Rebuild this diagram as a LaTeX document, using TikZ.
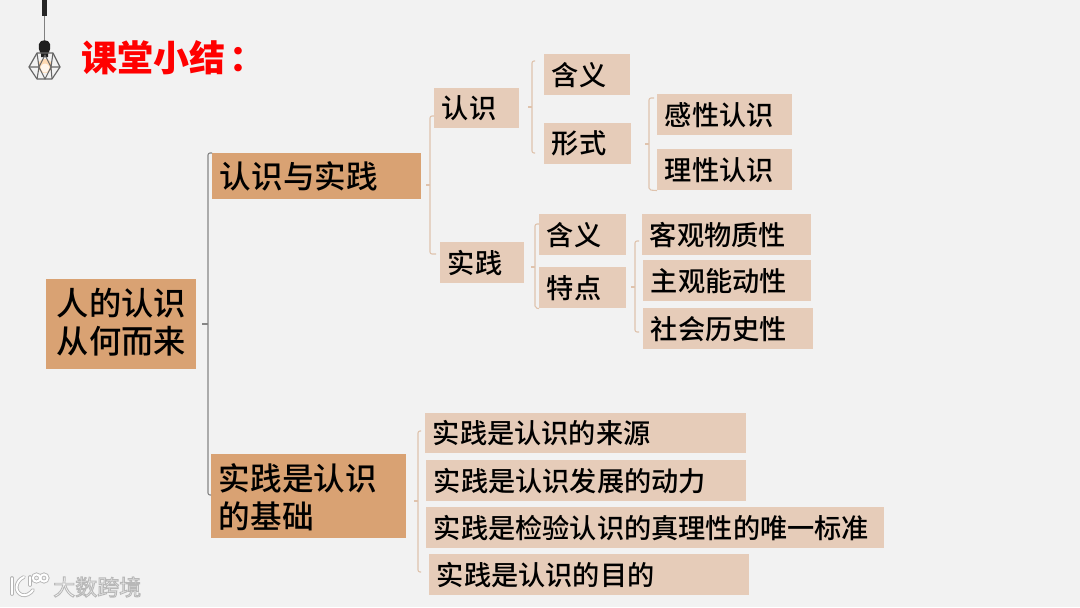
\documentclass[tikz,border=0pt]{standalone}
\usepackage{fontspec}
\setmainfont{Noto Sans CJK SC Medium}
\newfontfamily\cjkbold{Noto Sans CJK SC Black}
\newfontfamily\cjkwm{Noto Sans CJK SC}
\definecolor{pagebg}{HTML}{F2F2F2}
\definecolor{darkbox}{HTML}{D9A273}
\definecolor{lightbox}{HTML}{E6CCB9}
\definecolor{tanline}{HTML}{DFC3AD}
\definecolor{grayline}{HTML}{858585}
\definecolor{wmark}{HTML}{B4B4B4}
\tikzset{
  x=0.75pt,y=-0.75pt,
  basebox/.style={anchor=north west,inner ysep=0pt,inner xsep=5.7pt,align=left,text=black},
  darkitem/.style={basebox,fill=darkbox,font=\fontsize{23.7}{28.5}\selectfont},
  rootitem/.style={darkitem,align=center,font=\fontsize{24.2}{28.5}\selectfont},
  lightitem/.style={basebox,fill=lightbox,font=\fontsize{20.4}{24}\selectfont},
  tanbracket/.style={draw=tanline,line width=0.8pt,rounded corners=1.5pt},
  graybracket/.style={draw=grayline,line width=0.8pt,rounded corners=1.5pt},
  titletext/.style={anchor=west,inner sep=0pt,text=red,font=\cjkbold\fontsize{27}{30}\selectfont},
  wmtext/.style={anchor=west,inner sep=0pt,text=white,font=\cjkwm\fontsize{16.5}{18}\selectfont},
  wmunder/.style={draw=wmark,line width=2.8pt,line cap=round},
  wmover/.style={draw=white,line width=1.5pt,line cap=round},
}
% name, style, x1, y1, x2, y2, text
\newcommand{\itembox}[7]{%
  \pgfmathsetmacro{\itemw}{(#5-#3)*0.75-11.4}%
  \pgfmathsetmacro{\itemh}{(#6-#4)*0.75}%
  \node[#2,text width=\itemw pt,minimum height=\itemh pt] (#1) at (#3,#4) {#7};%
}
\newcommand{\logopath}[1]{%
  \draw[#1] (12,578) -- (12,594);
  \draw[#1] (24,577) .. controls (15,581) and (14,592) .. (22,595) .. controls (26,596) and (30,594) .. (33,590);
  \draw[#1] (30,577) -- (30,585);
  \draw[#1] (36.5,578) ellipse (3.6 and 3.6);
  \draw[#1] (44,578) ellipse (3.6 and 3.6);
}
\begin{document}
\begin{tikzpicture}
\useasboundingbox (0,0) rectangle (1080,607);
\fill[pagebg] (0,0) rectangle (1080,607);

% lamp
\fill[black!85] (42,0) rectangle (47,16);
\draw[gray,line width=0.8pt] (44.5,16) -- (44.5,42);
\fill[white!70!orange] (45,66) circle (7);
\fill[white!92!orange] (45,68) circle (4.5);
\fill[black!88] (41,57) -- (41,54) .. controls (39,50) and (38,47) .. (39,44) .. controls (40,39) and (49,39) .. (50,44) .. controls (51,47) and (50,50) .. (48,54) -- (48,57) -- cycle;
\draw[black!60,line width=0.9pt,line join=round] (37,53) -- (53,53) -- (60,67) -- (52,79) -- (37,79) -- (29,67) -- cycle;
\draw[black!60,line width=0.8pt,line join=round] (37,53) -- (39,67) -- (37,79) (53,53) -- (51,67) -- (52,79) (29,67) -- (39,67) -- (45,79) -- (51,67) -- (60,67) (39,67) -- (45,55) -- (51,67);

\node[titletext] (title) at (81,58) {课堂小结\hspace{3.2pt}：};

% boxes
\itembox{root}{rootitem}{46}{279}{196}{369}{人的认识\\从何而来\rule[-5pt]{0pt}{5pt}}
\itembox{rel}{darkitem}{212}{153}{421}{199}{认识与实践}
\itembox{base}{darkitem}{211}{454}{406}{538}{\rule{0pt}{22pt}实践是认识\\的基础}
\itembox{ren}{lightitem}{434}{88}{519}{128}{认识}
\itembox{shi}{lightitem}{440}{242}{524}{283}{实践}
\itembox{hy1}{lightitem}{544}{54}{630}{95}{含义}
\itembox{xs}{lightitem}{544}{123}{631}{164}{形式}
\itembox{gx}{lightitem}{657}{94}{792}{135}{感性认识}
\itembox{lx}{lightitem}{657}{149}{792}{190}{理性认识}
\itembox{hy2}{lightitem}{539}{214}{626}{255}{含义}
\itembox{td}{lightitem}{539}{267}{626}{308}{特点}
\itembox{kg}{lightitem}{642}{214}{811}{255}{客观物质性}
\itembox{zg}{lightitem}{643}{260}{811}{301}{主观能动性}
\itembox{sh}{lightitem}{643}{308}{813}{349}{社会历史性}
\itembox{b1}{lightitem}{425}{413}{746}{453}{实践是认识的来源}
\itembox{b2}{lightitem}{426}{460}{746}{501}{实践是认识发展的动力}
\itembox{b3}{lightitem}{426}{507}{884}{548}{实践是检验认识的真理性的唯一标准}
\itembox{b4}{lightitem}{429}{554}{749}{595}{实践是认识的目的}

% brackets: a bar with a stub towards the parent and ends towards the children
\draw[graybracket] (rel.north west) -| (208,495) -- (base.west |- 0,495);
\draw[graybracket,rounded corners=0pt] (202,324) -- (208,324);
\draw[tanbracket] (ren.west |- 0,116) -| (430,254) -- (436,254);
\draw[tanbracket,rounded corners=0pt] (426,185) -- (430,185);
\draw[tanbracket] (535,61) -| (532,153) -- (535,153);
\draw[tanbracket,rounded corners=0pt] (528,107) -- (532,107);
\draw[tanbracket] (654,98) -| (649,190) -- (lx.south west);
\draw[tanbracket,rounded corners=0pt] (645,144) -- (649,144);
\draw[tanbracket] (hy2.west |- 0,224) -| (535,308) -- (td.south west);
\draw[tanbracket,rounded corners=0pt] (531,267) -- (535,267);
\draw[tanbracket] (639,241) -| (635,332) -- (639,332);
\draw[tanbracket,rounded corners=0pt] (631,287) -- (635,287);
\draw[tanbracket] (421,431) -| (418,572) -- (421,572);
\draw[tanbracket,rounded corners=0pt] (414,501) -- (418,501);

% watermark
\logopath{wmunder}
\logopath{wmover}
\node[wmtext] (wm) at (53,587) {\special{pdf:code 2 Tr 0.7 w 0.72 G}大数跨境\special{pdf:code 0 Tr}};
\end{tikzpicture}
\end{document}
